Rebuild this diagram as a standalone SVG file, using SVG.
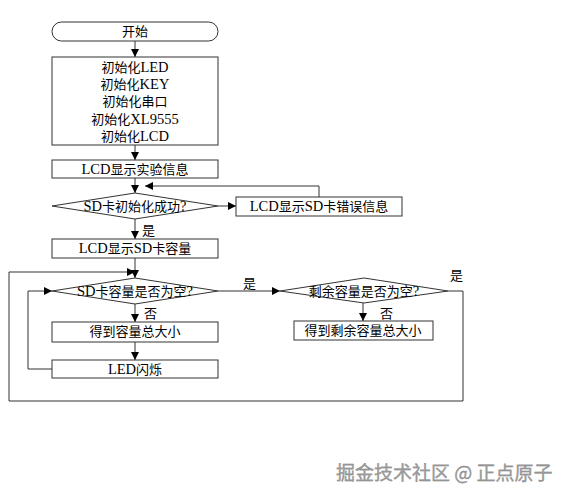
<svg xmlns="http://www.w3.org/2000/svg" width="571" height="500" viewBox="0 0 571 500">
<defs>
<marker id="ah" viewBox="0 0 10 10" refX="10" refY="5" markerWidth="9" markerHeight="8" markerUnits="userSpaceOnUse" orient="auto">
<path d="M0,0 L10,5 L0,10 z" fill="#000"/>
</marker>
<style>
.s{fill:#fff;stroke:#333;stroke-width:1}
.c{fill:none;stroke:#333;stroke-width:1}
.t{font-family:"Liberation Serif","Noto Sans CJK SC",serif;font-size:13px;fill:#000;text-anchor:middle}
.e{font-size:14.5px}
.l{font-family:"Liberation Serif","Noto Sans CJK SC",serif;font-size:13px;fill:#000}
.w{font-family:"Noto Sans CJK SC",sans-serif;font-size:19px;fill:#a0a0a0;stroke:#7a7a7a;stroke-width:0.3}
</style>
</defs>
<rect width="571" height="500" fill="#fff"/>
<g id="connectors">
<path class="c" d="M135,41 V57" marker-end="url(#ah)"/>
<path class="c" d="M135,145 V160" marker-end="url(#ah)"/>
<path class="c" d="M135,178 V193" marker-end="url(#ah)"/>
<path class="c" d="M218,206 H236" marker-end="url(#ah)"/>
<path class="c" d="M319,197 V186 H145" marker-end="url(#ah)"/>
<path class="c" d="M135,219 V239" marker-end="url(#ah)"/>
<path class="c" d="M135,258 V278" marker-end="url(#ah)"/>
<path class="c" d="M448,291 H463 V401 H9 V272 H135" marker-end="url(#ah)"/>
<path class="c" d="M218,291 H280" marker-end="url(#ah)"/>
<path class="c" d="M363,303 V321" marker-end="url(#ah)"/>
<path class="c" d="M135,304 V322" marker-end="url(#ah)"/>
<path class="c" d="M135,342 V360" marker-end="url(#ah)"/>
<path class="c" d="M52,369 H28 V291 H52" marker-end="url(#ah)"/>
<text class="l" x="142" y="235">是</text>
<text class="l" x="243" y="288">是</text>
<text class="l" x="450" y="280">是</text>
<text class="l" x="144" y="318">否</text>
<text class="l" x="380" y="318">否</text>
</g>
<g id="start">
<rect class="s" x="52" y="22" width="166" height="19" rx="9.5" ry="9.5"/>
<text class="t" x="135" y="36">开始</text>
</g>
<g id="init">
<rect class="s" x="52" y="57" width="166" height="88"/>
<text class="t" x="135" y="72">初始化<tspan class="e">LED</tspan></text>
<text class="t" x="135" y="89">初始化<tspan class="e">KEY</tspan></text>
<text class="t" x="135" y="106">初始化串口</text>
<text class="t" x="135" y="124">初始化<tspan class="e">XL9555</tspan></text>
<text class="t" x="135" y="141">初始化<tspan class="e">LCD</tspan></text>
</g>
<g id="lcdinfo">
<rect class="s" x="52" y="160" width="166" height="18"/>
<text class="t" x="135" y="174"><tspan class="e">LCD</tspan>显示实验信息</text>
</g>
<g id="sdinit">
<path class="s" d="M52,206 L135,193 L218,206 L135,219 z"/>
<text class="t" x="135" y="211"><tspan class="e">SD</tspan>卡初始化成功<tspan class="e">?</tspan></text>
</g>
<g id="sderr">
<rect class="s" x="236" y="197" width="166" height="19"/>
<text class="t" x="319" y="211"><tspan class="e">LCD</tspan>显示<tspan class="e">SD</tspan>卡错误信息</text>
</g>
<g id="sdcap">
<rect class="s" x="52" y="239" width="166" height="19"/>
<text class="t" x="135" y="253"><tspan class="e">LCD</tspan>显示<tspan class="e">SD</tspan>卡容量</text>
</g>
<g id="capempty">
<path class="s" d="M52,291 L135,278 L218,291 L135,304 z"/>
<text class="t" x="135" y="296"><tspan class="e">SD</tspan>卡容量是否为空<tspan class="e">?</tspan></text>
</g>
<g id="freeempty">
<path class="s" d="M280,291 L364,278 L448,291 L364,303 z"/>
<text class="t" x="364" y="296">剩余容量是否为空<tspan class="e">?</tspan></text>
</g>
<g id="gettotal">
<rect class="s" x="52" y="322" width="166" height="20"/>
<text class="t" x="135" y="336">得到容量总大小</text>
</g>
<g id="getfree">
<rect class="s" x="294" y="321" width="139" height="19"/>
<text class="t" x="363" y="335">得到剩余容量总大小</text>
</g>
<g id="led">
<rect class="s" x="52" y="360" width="166" height="18"/>
<text class="t" x="135" y="374"><tspan class="e">LED</tspan>闪烁</text>
</g>
<text class="w" x="336" y="480">掘金技术社区 @ 正点原子</text>
</svg>
